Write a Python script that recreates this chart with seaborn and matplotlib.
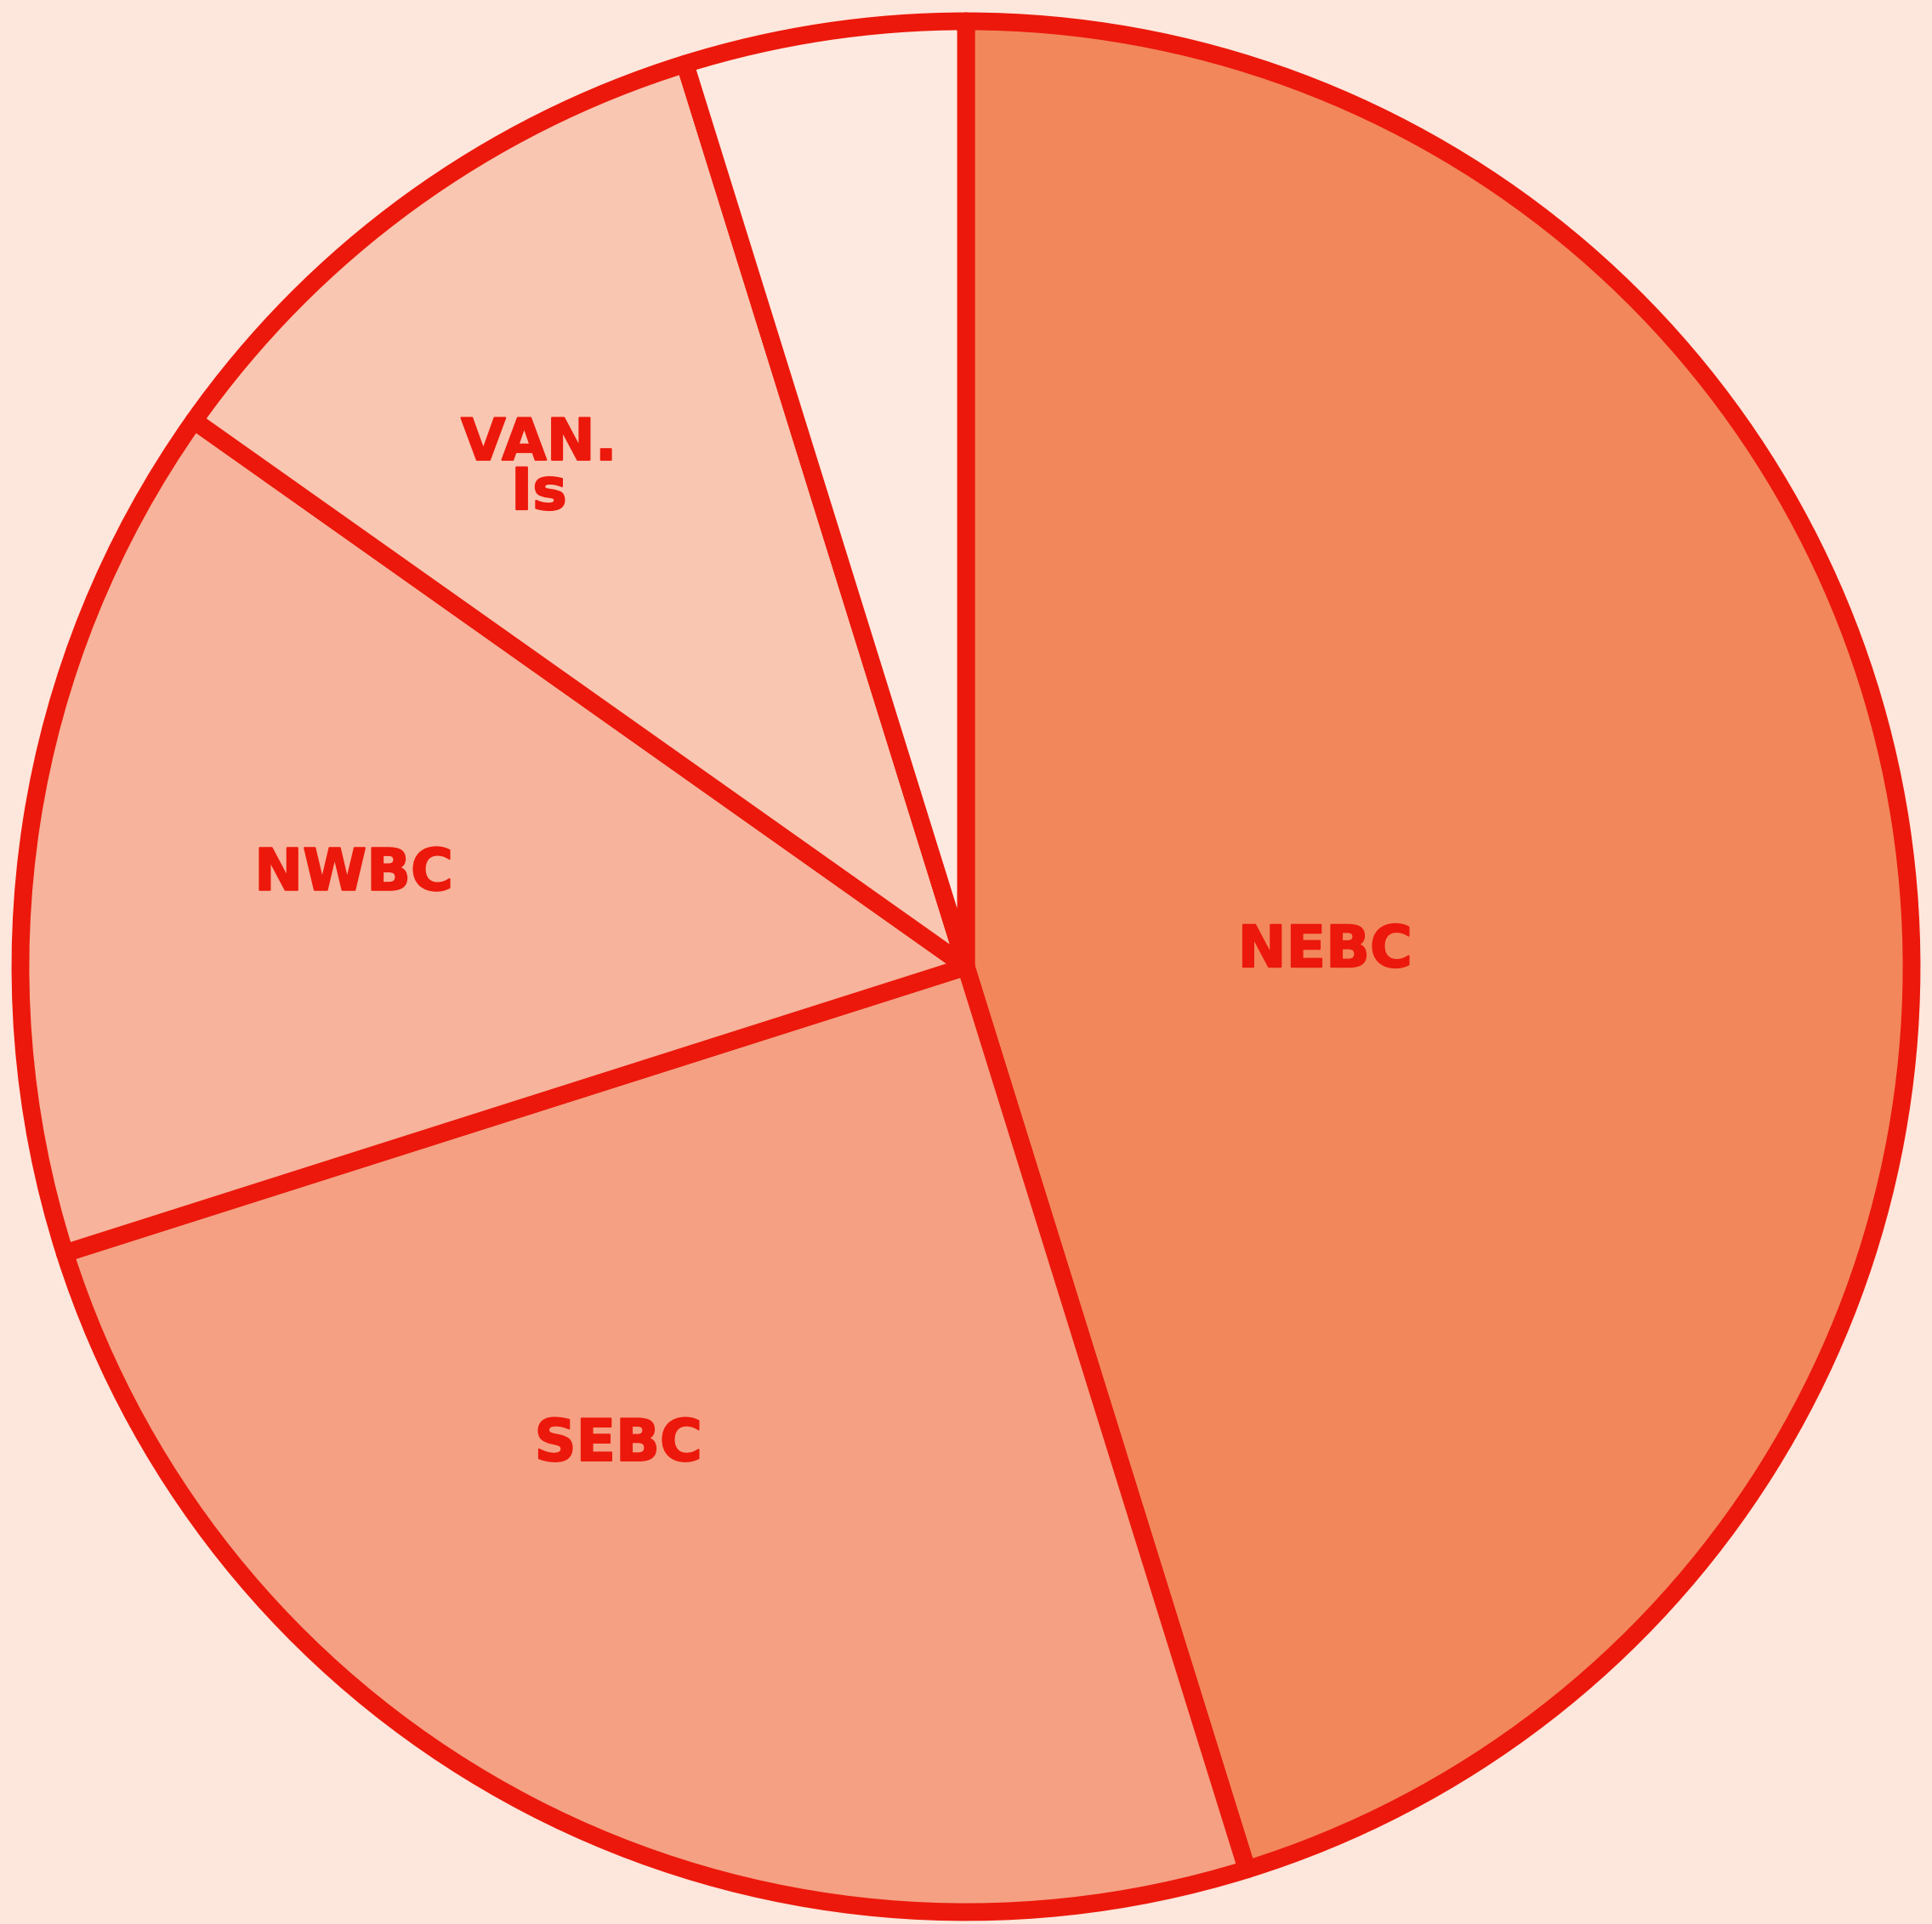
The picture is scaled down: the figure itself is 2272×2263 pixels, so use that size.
import numpy as np
import matplotlib
matplotlib.use("Agg")
import matplotlib.pyplot as plt
import matplotlib.patheffects as pe
import seaborn as sns

# Share of each region (percent), clockwise from 12 o'clock
regions = ["NEBC", "SEBC", "NWBC", "VAN.\nIs", ""]
shares = [45.2, 24.9, 14.7, 10.4, 4.8]

# Fill for each wedge and the common ink colour
fills = ["#f2875c", "#f5a083", "#f7b39b", "#f9c6b1", "#fde9e0"]
ink = "#ec180b"
paper = "#fde6dc"

# Label placement: radial distance (fraction of radius) and angular nudge (deg)
label_radius = [0.38, 0.625, 0.655, 0.694, 0.0]
label_nudge = [-6.1, -8.5, 0.2, 4.6, 0.0]

sns.set_theme(style="white")
plt.rcParams["font.family"] = ["DejaVu Sans"]

W, H, DPI = 2272, 2263, 100
fig = plt.figure(figsize=(W / DPI, H / DPI), dpi=DPI, facecolor=paper)
ax = fig.add_axes([0, 0, 1, 1])
ax.set_facecolor(paper)

wedges, _ = ax.pie(
    shares,
    colors=fills,
    startangle=90,
    counterclock=False,
    radius=1.0,
    wedgeprops=dict(edgecolor=ink, linewidth=15, joinstyle="round"),
)

# Heavy lettering: bold face thickened with a thin same-colour stroke
heavy = [pe.withStroke(linewidth=1.4, foreground=ink)]
for w, name, r, nudge in zip(wedges, regions, label_radius, label_nudge):
    if not name:
        continue
    mid = np.deg2rad((w.theta1 + w.theta2) / 2 + nudge)
    ax.text(r * np.cos(mid), r * np.sin(mid), name, ha="center", va="center",
            color=ink, fontsize=49, fontweight="bold", linespacing=0.85,
            path_effects=heavy)

# Pixel layout: centre at (1136, 1137) from top-left, radius 1112 px
R = 1112.0
cx, cy = 1136.0, 1137.0
ax.set_xlim(-cx / R, (W - cx) / R)
ax.set_ylim(-(H - cy) / R, cy / R)
ax.set_aspect("auto")
ax.axis("off")

fig.savefig("out.png", dpi=DPI, facecolor=paper)
